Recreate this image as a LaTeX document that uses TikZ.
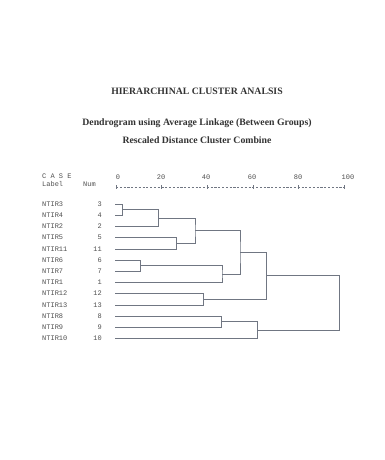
\documentclass[tikz,border=0pt]{standalone}
\usepackage{fontspec}
\setmainfont{Liberation Serif}
\setmonofont{Liberation Mono}
\usetikzlibrary{positioning,calc}
\definecolor{inkgray}{RGB}{80,80,80}
\definecolor{linegray}{RGB}{112,118,130}

\begin{document}
\begin{tikzpicture}[x=1bp, y=-1bp,
    heading/.style={inner sep=0pt, font=\bfseries\fontsize{9.8}{11}\selectfont, text=black!80},
    caselabel/.style={anchor=west, inner sep=0pt, font=\ttfamily\fontsize{7}{8}\selectfont, text=inkgray},
    casenum/.style={anchor=east, inner sep=0pt, font=\ttfamily\fontsize{7}{8}\selectfont, text=inkgray},
    scalenum/.style={inner sep=0pt, font=\ttfamily\fontsize{7}{8}\selectfont, text=inkgray},
    link/.style={draw=linegray, line width=0.6pt}
]
\fill[white] (0,0) rectangle (384,460);
\useasboundingbox (0,0) rectangle (384,460);

% Headings
\node[heading] (title) at (197,91) {HIERARCHINAL CLUSTER ANALSIS};
\node[heading] (subtitle) at (197,123) {Dendrogram using Average Linkage (Between Groups)};
\node[heading] (scaletitle) at (197,140) {Rescaled Distance Cluster Combine};

% Column heads and scale
\node[caselabel] (casehead) at (42,176) {C A S E};
\node[caselabel] (labelhead) at (42,184) {Label};
\node[caselabel] (numhead) at (83,184) {Num};
\node[scalenum] (s0) at (118,177) {0};
\node[scalenum] (s20) at (161,177) {20};
\node[scalenum] (s40) at (206,177) {40};
\node[scalenum] (s60) at (252,177) {60};
\node[scalenum] (s80) at (298,177) {80};
\node[scalenum] (s100) at (348,177) {100};
\coordinate (a0) at (116,187);
\coordinate (a100) at (344,187);
\draw[linegray, line width=0.4pt, dash pattern=on 2.2pt off 1.6pt] (a0) -- (a100);
\foreach \t in {0,20,...,100}
    \draw[linegray, line width=0.4pt] ($(a0)!\t/100!(a100)+(0,-1.6)$) -- ++(0,3.2);

% Cases
\node[caselabel] (l3) at (42,204) {NTIR3};    \node[casenum] (n3) at (102,204) {3};    \coordinate (c3) at (115,204);
\node[caselabel] (l4) at (42,215.2) {NTIR4};  \node[casenum] (n4) at (102,215.2) {4};  \coordinate (c4) at (115,215.2);
\node[caselabel] (l2) at (42,226.4) {NTIR2};  \node[casenum] (n2) at (102,226.4) {2};  \coordinate (c2) at (115,226.4);
\node[caselabel] (l5) at (42,237.6) {NTIR5};  \node[casenum] (n5) at (102,237.6) {5};  \coordinate (c5) at (115,237.6);
\node[caselabel] (l11) at (42,248.8) {NTIR11}; \node[casenum] (n11) at (102,248.8) {11}; \coordinate (c11) at (115,248.8);
\node[caselabel] (l6) at (42,260) {NTIR6};    \node[casenum] (n6) at (102,260) {6};    \coordinate (c6) at (115,260);
\node[caselabel] (l7) at (42,271.2) {NTIR7};  \node[casenum] (n7) at (102,271.2) {7};  \coordinate (c7) at (115,271.2);
\node[caselabel] (l1) at (42,282.4) {NTIR1};  \node[casenum] (n1) at (102,282.4) {1};  \coordinate (c1) at (115,282.4);
\node[caselabel] (l12) at (42,293.6) {NTIR12}; \node[casenum] (n12) at (102,293.6) {12}; \coordinate (c12) at (115,293.6);
\node[caselabel] (l13) at (42,304.8) {NTIR13}; \node[casenum] (n13) at (102,304.8) {13}; \coordinate (c13) at (115,304.8);
\node[caselabel] (l8) at (42,316) {NTIR8};    \node[casenum] (n8) at (102,316) {8};    \coordinate (c8) at (115,316);
\node[caselabel] (l9) at (42,327.2) {NTIR9};  \node[casenum] (n9) at (102,327.2) {9};  \coordinate (c9) at (115,327.2);
\node[caselabel] (l10) at (42,338.4) {NTIR10}; \node[casenum] (n10) at (102,338.4) {10}; \coordinate (c10) at (115,338.4);

% Merge points
\coordinate (j34) at (122.5,209.6);
\coordinate (j342) at (158.7,218);
\coordinate (j511) at (176.7,243.2);
\coordinate (jA) at (195,230.6);
\coordinate (j67) at (140.3,265.6);
\coordinate (jB) at (222,274);
\coordinate (jAB) at (240,252.3);
\coordinate (j1213) at (203.7,299.2);
\coordinate (jC) at (266.7,275.75);
\coordinate (j89) at (221.7,321.6);
\coordinate (j8910) at (257.3,330);
\coordinate (jall) at (339.3,302.9);

% Dendrogram
\draw[link] (c3) -| (j34) |- (c4);
\draw[link] (j34) -| (j342) |- (c2);
\draw[link] (c5) -| (j511) |- (c11);
\draw[link] (j342) -| (jA) |- (j511);
\draw[link] (c6) -| (j67) |- (c7);
\draw[link] (j67) -| (jB) |- (c1);
\draw[link] (jA) -| (jAB) |- (jB);
\draw[link] (c12) -| (j1213) |- (c13);
\draw[link] (jAB) -| (jC) |- (j1213);
\draw[link] (c8) -| (j89) |- (c9);
\draw[link] (j89) -| (j8910) |- (c10);
\draw[link] (jC) -| (jall) |- (j8910);

\end{tikzpicture}
\end{document}
